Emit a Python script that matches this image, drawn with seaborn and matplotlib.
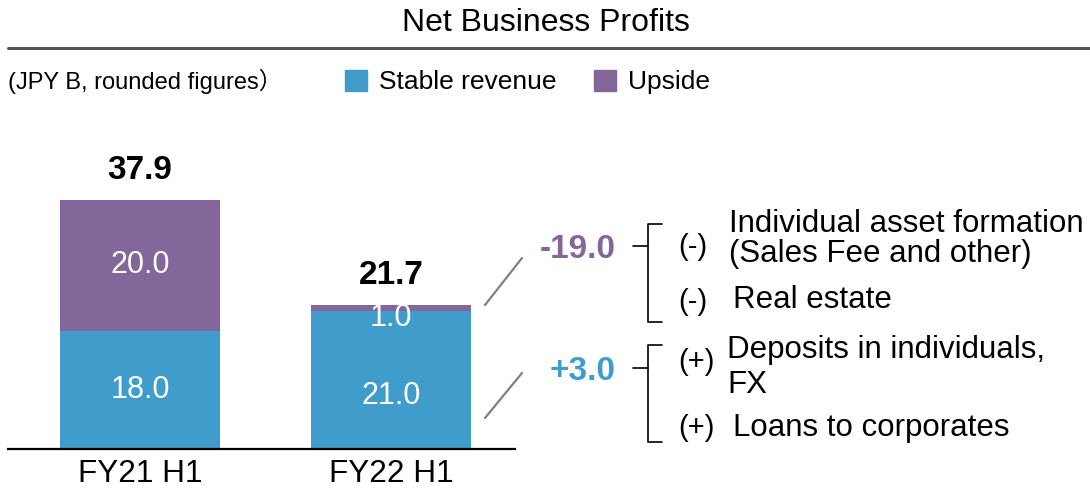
import matplotlib
matplotlib.use("Agg")
import matplotlib.pyplot as plt
from matplotlib.patches import Patch
from matplotlib.lines import Line2D
import seaborn as sns
import pandas as pd

# data
periods = ["FY21 H1", "FY22 H1"]
stable = [18.0, 21.0]
upside = [20.0, 1.0]
totals = [37.9, 21.7]
delta_upside = "-19.0"
delta_stable = "+3.0"

BLUE = "#409dcb"
PURPLE = "#83669a"

sns.set_style("white")
plt.rcParams["font.family"] = ["Liberation Sans", "Noto Sans CJK JP", "DejaVu Sans"]
plt.rcParams["text.color"] = "black"
plt.rcParams["xtick.color"] = "black"

df = pd.DataFrame({"period": periods, "stable": stable, "upside": upside})
df["top"] = df["stable"] + df["upside"]

W, H = 1090, 496
fig = plt.figure(figsize=(W / 100, H / 100), dpi=100)


def px(x, y):
    return x / W, 1 - y / H


ax = fig.add_axes([8 / W, 1 - 449 / H, (515 - 8) / W, (449 - 130) / H])

# stacked bars: full height in purple, stable part in blue on top
sns.barplot(data=df, x="period", y="top", color=PURPLE, saturation=1,
            width=0.64, linewidth=0, ax=ax)
sns.barplot(data=df, x="period", y="stable", color=BLUE, saturation=1,
            width=0.64, linewidth=0, ax=ax)

ax.set_xlim(-0.526, 1.494)
ax.set_ylim(0, 48.6)
ax.set_xlabel("")
ax.set_ylabel("")
ax.set_yticks([])
for s in ["left", "right", "top"]:
    ax.spines[s].set_visible(False)
ax.spines["bottom"].set_color("black")
ax.spines["bottom"].set_linewidth(1.6)
ax.tick_params(axis="x", length=0, labelsize=22.7, pad=7, labelcolor="black")

# labels inside / above bars
stable_label_y = [9.0, 8.0]
upside_label_y = [df["top"][0] - upside[0] / 2, stable[1] - 1.0]
for i in range(len(periods)):
    ax.text(i, stable_label_y[i], f"{stable[i]:.1f}", ha="center", va="center",
            color="white", fontsize=22)
    ax.text(i, upside_label_y[i], f"{upside[i]:.1f}", ha="center", va="center",
            color="white", fontsize=22)
    ax.text(i, df["top"][i] + 4.5, f"{totals[i]:.1f}", ha="center", va="center",
            fontsize=24, fontweight="bold", color="black")

# title and rule
fig.text(*px(546, 23), "Net Business Profits", ha="center", va="center", fontsize=23)
fig.add_artist(Line2D([8 / W, 1], [1 - 48 / H] * 2, color="#555555", lw=2.2))
fig.text(*px(8, 81), "(JPY B, rounded figures）", ha="left", va="center", fontsize=17)

handles = [Patch(color=BLUE), Patch(color=PURPLE)]
fig.legend(handles, ["Stable revenue", "Upside"], loc="center left",
           bbox_to_anchor=px(345, 82), ncol=2, frameon=False,
           handlelength=0.85, handleheight=0.85, handletextpad=0.45,
           columnspacing=1.4, borderaxespad=0, borderpad=0, fontsize=19)


def fline(xs, ys, **kw):
    fig.add_artist(Line2D([x / W for x in xs], [1 - y / H for y in ys], **kw))


# diagonal connectors
fline([485, 522], [305, 258], color="#808080", lw=1.6)
fline([485, 522], [418, 373], color="#808080", lw=1.6)

fig.text(*px(616, 250), delta_upside, ha="right", va="center", fontsize=24,
         fontweight="bold", color=PURPLE)
fig.text(*px(616, 372), delta_stable, ha="right", va="center", fontsize=24,
         fontweight="bold", color=BLUE)

# brackets
for top, mid, bot in [(224, 246, 322), (345, 368, 442)]:
    fline([662, 648, 648, 662], [top, top, bot, bot], color="black", lw=1.2)
    fline([633, 648], [mid, mid], color="black", lw=1.2)

fig.text(*px(678, 247), "(-)", ha="left", va="center", fontsize=21)
fig.text(*px(678, 302), "(-)", ha="left", va="center", fontsize=21)
fig.text(*px(678, 362), "(+)", ha="left", va="center", fontsize=21)
fig.text(*px(678, 428), "(+)", ha="left", va="center", fontsize=21)

fig.text(*px(729, 224), "Individual asset formation", ha="left", va="center", fontsize=22.5)
fig.text(*px(729, 254), "(Sales Fee and other)", ha="left", va="center", fontsize=22.5)
fig.text(*px(733, 300), "Real estate", ha="left", va="center", fontsize=22.5)
fig.text(*px(727, 350), "Deposits in individuals,", ha="left", va="center", fontsize=22.5)
fig.text(*px(727, 385), "FX", ha="left", va="center", fontsize=22.5)
fig.text(*px(733, 428), "Loans to corporates", ha="left", va="center", fontsize=22.5)

fig.savefig("out.png", dpi=100)
